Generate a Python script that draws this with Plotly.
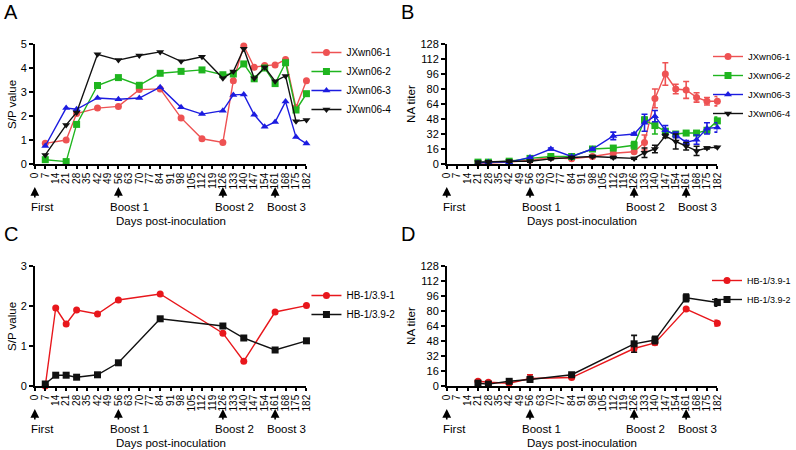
import plotly.graph_objects as go

# ---------------- data ----------------
day_ticks = list(range(0, 183, 7))

days_A = [7, 21, 28, 42, 56, 70, 84, 98, 112, 126, 133, 140, 147, 154, 161, 168, 175, 182]
A_jx1 = [0.86, 1.0, 2.1, 2.33, 2.4, 3.1, 3.13, 1.92, 1.05, 0.9, 3.47, 4.92, 4.03, 4.1, 4.13, 4.35, 2.35, 3.47]
A_jx2 = [0.18, 0.1, 1.65, 3.27, 3.6, 3.28, 3.78, 3.86, 3.92, 3.72, 3.75, 4.17, 3.55, 4.0, 3.35, 4.22, 2.25, 2.93]
A_jx3 = [0.75, 2.33, 2.28, 2.75, 2.7, 2.75, 3.2, 2.36, 2.08, 2.22, 2.88, 2.9, 2.05, 1.55, 1.75, 2.6, 1.12, 0.85]
A_jx4 = [0.38, 1.63, 2.15, 4.57, 4.33, 4.52, 4.67, 4.28, 4.47, 3.57, 3.85, 4.8, 3.57, 4.03, 3.45, 3.67, 1.78, 1.83]

days_B = [21, 28, 42, 56, 70, 84, 98, 112, 126, 133, 140, 147, 154, 161, 168, 175, 182]
B_jx1 = [1, 1, 2, 4, 7, 5.5, 8, 11.5, 13, 23, 70, 96, 80, 79, 71, 67, 67]
B_jx1_err = [0, 0, 0, 0, 0, 0, 0, 0, 1, 8, 10, 12, 5, 9, 5, 4, 5]
B_jx2 = [2, 2, 3, 6, 8, 8, 16, 17, 20, 47, 41, 35, 32, 33, 33, 36, 46]
B_jx2_err = [0, 0, 0, 0, 0, 0, 0, 1, 4, 3, 9, 2, 2, 2, 2, 2, 4]
B_jx3 = [1, 2, 2, 7, 16, 8, 16, 30, 32, 44, 51, 36, 31, 23, 26, 38, 39]
B_jx3_err = [0, 0, 0, 0, 1, 0, 1, 4, 1, 9, 6, 5, 3, 2, 5, 6, 5]
B_jx4 = [2, 2.5, 3, 3, 5.5, 7, 8, 7, 6, 12, 16, 30, 24, 19, 14, 17, 18]
B_jx4_err = [1, 1, 1, 1, 1, 1, 1, 1, 1, 5, 4, 2, 8, 4, 5, 1, 1]

days_C = [7, 14, 21, 28, 42, 56, 84, 126, 140, 161, 182]
C_hb1 = [0.0, 1.95, 1.55, 1.9, 1.8, 2.15, 2.3, 1.32, 0.62, 1.85, 2.01]
C_hb2 = [0.05, 0.27, 0.27, 0.22, 0.28, 0.58, 1.68, 1.5, 1.2, 0.9, 1.13]

days_D = [21, 28, 42, 56, 84, 126, 140, 161, 182]
D_hb1 = [5, 4, 3, 8, 9, 40, 46, 82, 67]
D_hb1_err = [1, 1, 1, 4, 1, 4, 2, 1, 3]
D_hb2 = [3, 2, 5, 7, 12, 45, 49, 94, 89]
D_hb2_err = [1, 1, 1, 3, 1, 9, 4, 4, 4]

events_day = [0, 56, 126, 161]
events_label = ["First", "Boost 1", "Boost 2", "Boost 3"]

# ---------------- style ----------------
W, H = 796, 450
FONT = "Arial, 'Liberation Sans', sans-serif"
RED_A = "#ee5253"
GREEN = "#1fb51f"
BLUE = "#1c1ce0"
BLACK = "#111111"
RED_C = "#e8171c"


def px_x(p):
    return p / W


def px_y(p):
    return 1 - p / H


fig = go.Figure()


def add(ax, legend, name, x, y, color, symbol, err=None):
    fig.add_trace(go.Scatter(
        x=x, y=y, name=name, mode="lines+markers",
        line=dict(color=color, width=1.4),
        marker=dict(symbol=symbol, size=7, color=color),
        error_y=dict(type="data", array=err, visible=err is not None,
                     color=color, thickness=1.6, width=3),
        xaxis="x" + ax, yaxis="y" + ax, legend=legend, cliponaxis=False,
    ))


add("", "legend", "JXwn06-1", days_A, A_jx1, RED_A, "circle")
add("", "legend", "JXwn06-2", days_A, A_jx2, GREEN, "square")
add("", "legend", "JXwn06-3", days_A, A_jx3, BLUE, "triangle-up")
add("", "legend", "JXwn06-4", days_A, A_jx4, BLACK, "triangle-down")

add("2", "legend2", "JXwn06-1", days_B, B_jx1, RED_A, "circle", B_jx1_err)
add("2", "legend2", "JXwn06-2", days_B, B_jx2, GREEN, "square", B_jx2_err)
add("2", "legend2", "JXwn06-3", days_B, B_jx3, BLUE, "triangle-up", B_jx3_err)
add("2", "legend2", "JXwn06-4", days_B, B_jx4, BLACK, "triangle-down", B_jx4_err)

add("3", "legend3", "HB-1/3.9-1", days_C, C_hb1, RED_C, "circle")
add("3", "legend3", "HB-1/3.9-2", days_C, C_hb2, BLACK, "square")

add("4", "legend4", "HB-1/3.9-1", days_D, D_hb1, RED_C, "circle", D_hb1_err)
add("4", "legend4", "HB-1/3.9-2", days_D, D_hb2, BLACK, "square", D_hb2_err)

# panel geometry (pixels)
panels = {
    "": dict(x0=35, x1=308, y0=164, y1=44, yr=[0, 5], dt=1, ytitle="S/P value", tx=12, letter="A", lx=2),
    "2": dict(x0=449, x1=721, y0=164, y1=44, yr=[0, 128], dt=16, ytitle="NA titer", tx=413, letter="B", lx=401),
    "3": dict(x0=35, x1=308, y0=386, y1=266, yr=[0, 3], dt=1, ytitle="S/P value", tx=12, letter="C", lx=2),
    "4": dict(x0=449, x1=721, y0=386, y1=266, yr=[0, 128], dt=16, ytitle="NA titer", tx=413, letter="D", lx=401),
}

axis_common = dict(showline=True, linecolor="black", linewidth=1.5, ticks="outside",
                   ticklen=4, tickwidth=1.5, tickcolor="black", showgrid=False,
                   zeroline=False, automargin=False,
                   tickfont=dict(family=FONT, size=11, color="black"))

annotations = []
for key, p in panels.items():
    xa = "xaxis" + key
    ya = "yaxis" + key
    fig.layout[xa] = dict(
        axis_common, domain=[px_x(p["x0"]), px_x(p["x1"])], range=[0, 182],
        tickmode="array", tickvals=day_ticks, ticktext=[str(d) for d in day_ticks],
        tickangle=-90, anchor="y" + key, ticklen=3,
        tickfont=dict(family=FONT, size=10, color="black"),
    )
    fig.layout[ya] = dict(
        axis_common, domain=[px_y(p["y0"]), px_y(p["y1"])], range=p["yr"],
        dtick=p["dt"], tick0=0, anchor="x" + key,
    )
    xref = "x" + key
    # y-axis title
    annotations.append(dict(
        x=px_x(p["tx"]), y=px_y((p["y0"] + p["y1"]) / 2), xref="paper", yref="paper",
        text=p["ytitle"], textangle=-90, showarrow=False, xanchor="center", yanchor="middle",
        font=dict(family=FONT, size=11.5, color="black"),
    ))
    for d, lab in zip(events_day, events_label):
        annotations.append(dict(
            x=d, y=px_y(p["y0"] + 23), xref=xref, yref="paper", text="",
            showarrow=True, arrowhead=2, arrowsize=1.1, arrowwidth=1.6,
            arrowcolor="black", ax=0, ay=12, standoff=0,
        ))
        annotations.append(dict(
            x=d, y=px_y(p["y0"] + 43), xref=xref, yref="paper", text=lab,
            showarrow=False, xanchor="left", yanchor="middle",
            xshift=-10 if lab != "First" else -6,
            font=dict(family=FONT, size=11.5, color="black"),
        ))
    annotations.append(dict(
        x=(px_x(p["x0"]) + px_x(p["x1"])) / 2, y=px_y(p["y0"] + 57), xref="paper", yref="paper",
        text="Days post-inoculation", showarrow=False, xanchor="center", yanchor="middle",
        font=dict(family=FONT, size=11.5, color="black"),
    ))
    annotations.append(dict(
        x=px_x(p["lx"]), y=px_y(p["y1"] - 32), xref="paper", yref="paper",
        text=p["letter"], showarrow=False, xanchor="left", yanchor="middle",
        font=dict(family=FONT, size=20, color="black"),
    ))

leg_common = dict(bgcolor="rgba(0,0,0,0)", xanchor="left", yanchor="top",
                  itemwidth=30, tracegroupgap=0, borderwidth=0)
fig.update_layout(
    width=W, height=H,
    margin=dict(l=0, r=0, t=0, b=0),
    paper_bgcolor="white", plot_bgcolor="white",
    font=dict(family=FONT, color="black"),
    annotations=annotations,
    legend=dict(leg_common, x=px_x(308), y=px_y(38), font=dict(family=FONT, size=10, color="black")),
    legend2=dict(leg_common, x=px_x(712), y=px_y(42), font=dict(family=FONT, size=9.5, color="black")),
    legend3=dict(leg_common, x=px_x(308), y=px_y(281), font=dict(family=FONT, size=10, color="black")),
    legend4=dict(leg_common, x=px_x(711), y=px_y(266), font=dict(family=FONT, size=9, color="black")),
)

fig.write_html("out.html", config={"displayModeBar": False},
               post_script="document.body.style.margin='0px';")
